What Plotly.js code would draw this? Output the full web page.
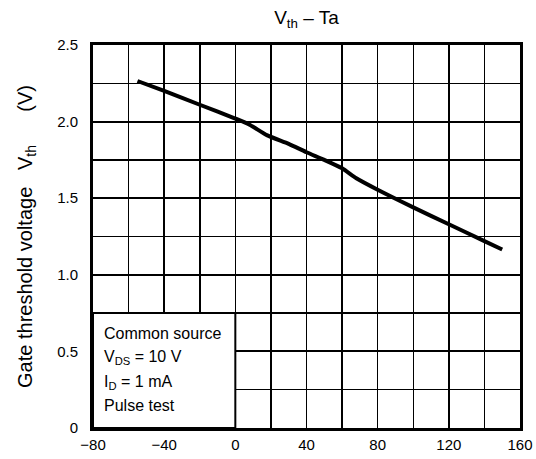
<!DOCTYPE html>
<html>
<head>
<meta charset="utf-8">
<script src="https://cdn.plot.ly/plotly-3.0.1.min.js"></script>
<style>html,body{margin:0;padding:0;background:#fff;}#chart{width:536px;height:459px;}</style>
</head>
<body>
<div id="chart"></div>
<script>
// Ambient temperature Ta (°C)
const ta = [-55, -40, -20, 0, 8, 18, 30, 40, 50, 60, 68, 80, 100, 120, 140, 150];
// Gate threshold voltage Vth (V)
const vth = [2.265, 2.20, 2.11, 2.02, 1.98, 1.91, 1.855, 1.80, 1.75, 1.695, 1.63, 1.555, 1.44, 1.33, 1.22, 1.165];

const xTickVals = [-80, -40, 0, 40, 80, 120, 160];
const xTickText = ['\u221280', '\u221240', '0', '40', '80', '120', '160'];
const yTickVals = [0, 0.5, 1.0, 1.5, 2.0, 2.5];
const yTickText = ['0', '0.5', '1.0', '1.5', '2.0', '2.5'];

const noteLines = ['Common source', 'V<sub>DS</sub> = 10 V', 'I<sub>D</sub> = 1 mA', 'Pulse test'];
const noteY = [0.614, 0.457, 0.300, 0.144];

const FONT = 'Liberation Sans, Arial, Helvetica, sans-serif';
const SP1 = '\u00a0\u00a0\u00a0';
const SP2 = '\u00a0\u00a0\u00a0\u00a0\u00a0\u00a0';

const trace = {
  x: ta, y: vth, type: 'scatter', mode: 'lines',
  line: {color: '#000', width: 4, shape: 'spline', smoothing: 0.6},
  hoverinfo: 'skip'
};

const annotations = noteLines.map((t, i) => ({
  x: -74.8, y: noteY[i], xref: 'x', yref: 'y', text: t, showarrow: false,
  xanchor: 'left', yanchor: 'middle', font: {family: FONT, size: 16, color: '#000'}
}));

const layout = {
  width: 536, height: 459,
  margin: {l: 93, r: 16, t: 45, b: 31, pad: 0},
  paper_bgcolor: '#fff', plot_bgcolor: '#fff',
  showlegend: false,
  font: {family: FONT, size: 15, color: '#000'},
  title: {text: 'V<sub>th</sub> \u2013 Ta', x: 0.5, xref: 'paper', xanchor: 'center',
          y: 0.962, yref: 'container', yanchor: 'middle', font: {family: FONT, size: 19, color: '#000'}},
  xaxis: {
    range: [-80, 160], tickmode: 'array', tickvals: xTickVals, ticktext: xTickText,
    showgrid: true, gridcolor: '#000', gridwidth: 1.5,
    minor: {dtick: 20, tick0: -80, showgrid: true, gridcolor: '#000', gridwidth: 1.5, ticks: ''},
    showline: true, linecolor: '#000', linewidth: 3, mirror: true,
    ticks: '', zeroline: false, fixedrange: true, ticklabelstandoff: 1,
    tickfont: {family: FONT, size: 15, color: '#000'}
  },
  yaxis: {
    range: [0, 2.5], tickmode: 'array', tickvals: yTickVals, ticktext: yTickText,
    showgrid: true, gridcolor: '#000', gridwidth: 2,
    minor: {dtick: 0.25, tick0: 0, showgrid: true, gridcolor: '#000', gridwidth: 1.5, ticks: ''},
    showline: true, linecolor: '#000', linewidth: 3, mirror: true,
    ticks: '', zeroline: false, fixedrange: true, ticklabelstandoff: 9,
    tickfont: {family: FONT, size: 15, color: '#000'},
    title: {text: 'Gate threshold voltage' + SP1 + 'V<sub>th</sub>' + SP2 + '(V)', standoff: 20,
            font: {family: FONT, size: 20, color: '#000'}}
  },
  shapes: [{
    type: 'rect', xref: 'x', yref: 'y', x0: -80, x1: 0, y0: 0, y1: 0.75,
    fillcolor: '#fff', line: {color: '#000', width: 2}, layer: 'between'
  }],
  annotations: annotations
};

Plotly.newPlot('chart', [trace], layout, {displayModeBar: false, staticPlot: true});
</script>
</body>
</html>
